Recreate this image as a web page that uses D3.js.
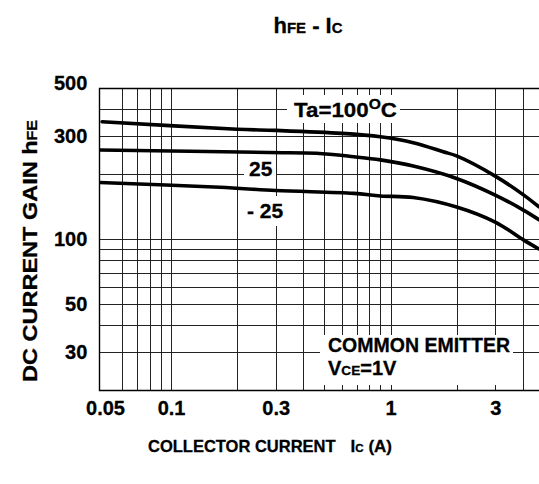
<!DOCTYPE html>
<html><head><meta charset="utf-8">
<script src="https://cdn.jsdelivr.net/npm/d3@7"></script>
<style>
body{margin:0;background:#fff}
svg{display:block}
text{font-family:"Liberation Sans",Arial,sans-serif;font-weight:bold;fill:#000;stroke:#000;stroke-width:0.3px}
</style>
</head><body>
<svg id="c" width="539" height="484"></svg>
<script>
// ---- data ----
const ic100  = [0.0485, 0.2, 0.3, 0.6, 0.9, 1.27, 1.74, 2.0, 3.0, 4.05, 4.75];
const hfe100 = [350, 323, 319, 309, 298, 280, 254, 243, 196, 160, 141];
const ic25   = [0.0473, 0.28, 0.46, 0.68, 0.9, 1.27, 2.0, 3.0, 4.05, 4.75];
const hfe25  = [259, 252, 250, 241, 233, 218, 191, 160, 136, 123];
const icM25  = [0.0473, 0.167, 0.3, 0.68, 0.9, 1.27, 2.0, 3.0, 4.05, 4.75];
const hfeM25 = [183, 174, 168, 163, 158.5, 156, 141, 120, 99, 90];
const xTickLabels = [0.05, 0.1, 0.3, 1, 3];
const yTickLabels = [30, 50, 100, 300, 500];
const xGridValues = [0.06,0.07,0.08,0.09,0.1,0.2,0.3,0.4,0.5,0.6,0.7,0.8,0.9,1,2,3,4];
const yGridValues = [30,40,50,60,70,80,90,100,200,300,400];

const svg = d3.select("#c");
const L = 99.3, R = 539, T = 88.3, B = 390;
const x = d3.scaleLog().domain([0.0471, 4.75]).range([L, R]);
const y = d3.scaleLog().domain([20, 500]).range([B, T]);
const snap = v => Math.round(v) + 0.5;

// grid
const grid = svg.append("g").attr("stroke", "#222").attr("stroke-width", 1);
xGridValues.forEach(v => grid.append("line")
  .attr("x1", snap(x(v))).attr("x2", snap(x(v))).attr("y1", T).attr("y2", B));
yGridValues.forEach(v => grid.append("line")
  .attr("x1", L).attr("x2", R).attr("y1", snap(y(v))).attr("y2", snap(y(v))));
// frame (top, left, bottom)
svg.append("path").attr("d", `M${R},${snap(T)}H${snap(L)}V${snap(B)}H${R}`)
  .attr("stroke", "#000").attr("stroke-width", 1.4).attr("fill", "none");

// rich text helper: parts [[text, kind], ...]
function rich(g, parts, size, attrs) {
  const t = g.append("text").attr("font-size", size);
  Object.entries(attrs || {}).forEach(([k, v]) => t.attr(k, v));
  parts.forEach(([s, kind]) => {
    const ts = t.append("tspan").text(s);
    if (kind === "sc") ts.attr("font-size", size * 0.68);
    if (kind === "sup") ts.attr("font-size", size * 0.7).attr("dy", -size * 0.4);
    if (kind === "down") ts.attr("dy", size * 0.4);
  });
  return t;
}
// labels inside plot with white backing
const ann = svg.append("g");
function boxed(px, py, w, h, build) {
  ann.append("rect").attr("x", px).attr("y", py).attr("width", w).attr("height", h).attr("fill", "#fff");
  build(ann);
}
boxed(287, 95, 113, 28, g => rich(g, [["Ta=100"], ["O", "sup"], ["C", "down"]], 21,
  {x: 294, y: 117, textLength: 103, lengthAdjust: "spacingAndGlyphs"}));
boxed(244, 159, 32, 20, g => rich(g, [["25"]], 21, {x: 249, y: 176}));
boxed(243, 196, 44, 30, g => rich(g, [["- 25"]], 21, {x: 247, y: 218}));
boxed(320, 335, 193, 50, g => {
  rich(g, [["COMMON EMITTER"]], 20, {x: 328, y: 352, textLength: 182, lengthAdjust: "spacingAndGlyphs"});
  rich(g, [["V"], ["CE", "sc"], ["=1V"]], 20, {x: 328, y: 375});
});

// curves
const line = d3.line().x(d => x(d[0])).y(d => y(d[1])).curve(d3.curveCatmullRom.alpha(0.5));
const series = [d3.zip(ic100, hfe100), d3.zip(ic25, hfe25), d3.zip(icM25, hfeM25)];
svg.append("defs").append("clipPath").attr("id", "clip")
  .append("rect").attr("x", L).attr("y", T).attr("width", R - L).attr("height", B - T);
svg.append("g").attr("clip-path", "url(#clip)").selectAll("path").data(series).join("path")
  .attr("d", line).attr("fill", "none").attr("stroke", "#000").attr("stroke-width", 3.6)
  .attr("stroke-linecap", "round");

// y tick labels
const ya = svg.append("g").attr("transform", `translate(${L},0)`)
  .call(d3.axisLeft(y).tickValues(yTickLabels).tickSize(0).tickPadding(12).tickFormat(d3.format("d")));
ya.select(".domain").remove();
ya.selectAll("text").attr("font-size", 20).attr("font-family", null).attr("fill", "#000")
  .filter(d => d === 500).attr("dy", "0.05em");
// x tick labels
const xa = svg.append("g").attr("transform", `translate(0,${B})`)
  .call(d3.axisBottom(x).tickValues(xTickLabels).tickSize(0).tickPadding(11).tickFormat(d => String(d)));
xa.select(".domain").remove();
xa.selectAll("text").attr("font-size", 20).attr("font-family", null).attr("fill", "#000");

// titles
rich(svg, [["h"], ["FE", "sc"], [" - I"], ["C", "sc"]], 22, {x: 308, y: 33, "text-anchor": "middle"});
rich(svg, [["COLLECTOR CURRENT"]], 16.5, {x: 148, y: 452});
rich(svg, [["I"], ["C", "sc"], [" (A)"]], 17, {x: 392, y: 452, "text-anchor": "end"});
rich(svg, [["DC CURRENT GAIN h"], ["FE", "sc"]], 21, {
  transform: "translate(37,251) rotate(-90)", "text-anchor": "middle",
  textLength: 262, lengthAdjust: "spacingAndGlyphs"});
</script>
</body></html>
